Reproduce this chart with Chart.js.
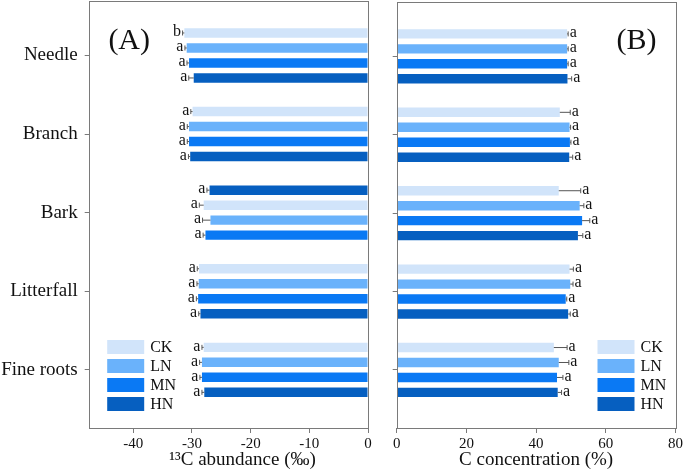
<!DOCTYPE html>
<html>
<head>
<meta charset="utf-8">
<script src="https://cdn.jsdelivr.net/npm/chart.js@4/dist/chart.umd.min.js"></script>
<style>
  body { margin: 0; background: #fff; }
  canvas { position: absolute; top: 0; }
</style>
</head>
<body>
<canvas id="chartA" width="380" height="476" style="left:0"></canvas>
<canvas id="chartB" width="305" height="476" style="left:380px"></canvas>
<script>
const categories = ["Needle", "Branch", "Bark", "Litterfall", "Fine roots"];
const treatments = ["CK", "LN", "MN", "HN"];
const treatColors = ["#d1e4fa", "#6ab2fb", "#0a79f4", "#065fc0"];

// (A) 13C abundance, per treatment, per tissue
const abundCK = [-31.3, -29.9, -28.0, -28.8, -28.0];
const abundLN = [-30.9, -30.5, -26.85, -28.85, -28.3];
const abundMN = [-30.5, -30.5, -27.7, -28.95, -28.3];
const abundHN = [-29.7, -30.3, -27.0, -28.55, -27.9];
const abundErrCK = [0.3, 0.3, 0.75, 0.3, 0.3];
const abundErrLN = [0.3, 0.3, 1.35, 0.3, 0.4];
const abundErrMN = [0.35, 0.3, 0.4, 0.3, 0.35];
const abundErrHN = [0.85, 0.3, 0.45, 0.3, 0.4];
const abundSigCK = ["b", "a", "a", "a", "a"];
const abundSigLN = ["a", "a", "a", "a", "a"];
const abundSigMN = ["a", "a", "a", "a", "a"];
const abundSigHN = ["a", "a", "a", "a", "a"];
// row order inside each group in panel A (bark group is drawn with HN on top)
const rowOrderA = [[0,1,2,3],[0,1,2,3],[3,0,1,2],[0,1,2,3],[0,1,2,3]];

// (B) C concentration
const concCK = [48.9, 46.8, 46.5, 49.6, 45.1];
const concLN = [48.9, 49.6, 52.5, 49.8, 46.5];
const concMN = [48.9, 49.7, 53.2, 48.5, 46.0];
const concHN = [49.0, 49.5, 52.0, 49.2, 46.2];
const concErrCK = [0.3, 3.0, 6.3, 1.1, 3.8];
const concErrLN = [0.3, 0.3, 1.2, 0.8, 2.9];
const concErrMN = [0.3, 0.3, 2.2, 0.3, 1.7];
const concErrHN = [1.2, 1.0, 1.4, 0.6, 1.1];
const concSig = ["a", "a", "a", "a", "a"];
const rowOrderB = [[0,1,2,3],[0,1,2,3],[0,1,2,3],[0,1,2,3],[0,1,2,3]];

const ticksA = [-40, -30, -20, -10, 0];
const ticksB = [0, 20, 40, 60, 80];

const SERIF = '"Liberation Serif", "Times New Roman", serif';
const FRAME = "#7a7a7a";

function buildDatasets(vals, errs, sigs, order){
  return treatments.map((t, r) => ({
    label: t,
    data: categories.map((c, i) => {
      const k = order[i][r];
      return { x: vals[k][i], y: i, err: errs[k][i], sig: sigs[k][i] };
    }),
    backgroundColor: categories.map((c, i) => treatColors[order[i][r]]),
    borderWidth: 0,
    categoryPercentage: 0.763,
    barPercentage: 0.63
  }));
}

const decoPlugin = {
  id: "deco",
  afterDatasetsDraw(chart, args, opts){
    const ctx = chart.ctx;
    const xs = chart.scales.x;
    ctx.save();
    chart.data.datasets.forEach((ds, di) => {
      const meta = chart.getDatasetMeta(di);
      meta.data.forEach((bar, j) => {
        const d = ds.data[j];
        const dir = d.x < 0 ? -1 : 1;
        const xe = xs.getPixelForValue(d.x + dir * d.err);
        ctx.strokeStyle = "#555";
        ctx.lineWidth = 1;
        ctx.beginPath();
        ctx.moveTo(bar.x, bar.y);
        ctx.lineTo(xe, bar.y);
        ctx.moveTo(xe, bar.y - 2.5);
        ctx.lineTo(xe, bar.y + 2.5);
        ctx.stroke();
        ctx.fillStyle = "#111";
        ctx.font = "16px " + SERIF;
        ctx.textBaseline = "middle";
        ctx.textAlign = dir < 0 ? "right" : "left";
        ctx.fillText(d.sig, xe + dir * 1.5, bar.y - 1);
      });
    });
    ctx.restore();
  },
  afterDraw(chart, args, opts){
    const ctx = chart.ctx;
    const a = chart.chartArea;
    ctx.save();
    ctx.strokeStyle = FRAME;
    ctx.lineWidth = 1;
    ctx.strokeRect(Math.round(a.left) + 0.5, Math.round(a.top) + 0.5,
      Math.round(a.right - a.left), Math.round(a.bottom - a.top));
    // panel label
    ctx.fillStyle = "#111";
    ctx.font = "30px " + SERIF;
    ctx.textAlign = "center";
    ctx.textBaseline = "middle";
    const lx = opts.side === "left" ? a.left + 40.5 : a.right - 39;
    ctx.fillText(opts.label, lx, 41);
    // legend
    const bx = opts.side === "left" ? a.left + 18.5 : a.right - 78;
    ctx.font = "16px " + SERIF;
    ctx.textAlign = "left";
    treatments.forEach((t, i) => {
      const by = a.bottom - 88 + 19 * i;
      ctx.fillStyle = treatColors[i];
      ctx.fillRect(bx, by, 37, 14);
      ctx.fillStyle = "#111";
      ctx.fillText(t, bx + 43, by + 8);
    });
    ctx.restore();
  }
};

function makeChart(id, datasets, xMin, xMax, xTicks, title, side, yWidth, padRight, padTop, showY){
  return new Chart(document.getElementById(id), {
    type: "bar",
    data: { datasets },
    plugins: [decoPlugin],
    options: {
      indexAxis: "y",
      responsive: false,
      animation: false,
      layout: { padding: { left: 0, right: padRight, top: padTop, bottom: 0 } },
      plugins: {
        legend: { display: false },
        tooltip: { enabled: false },
        deco: { label: side === "left" ? "(A)" : "(B)", side }
      },
      scales: {
        x: {
          type: "linear",
          min: xMin, max: xMax,
          afterBuildTicks: s => { s.ticks = xTicks.map(v => ({ value: v })); },
          afterFit: s => { s.height = 48; },
          grid: { drawOnChartArea: false, tickLength: 5, color: FRAME },
          border: { display: false },
          ticks: { color: "#111", padding: 2, font: { family: SERIF, size: 15 } },
          title: { display: true, text: title, color: "#111",
            font: { family: SERIF, size: 19 }, padding: { top: 0, bottom: 5 } }
        },
        y: {
          type: "linear",
          reverse: true,
          offset: false,
          min: -0.693, max: 4.74,
          afterBuildTicks: s => { s.ticks = categories.map((c, i) => ({ value: i })); },
          afterFit: s => { s.width = yWidth; s.paddingTop = 0; s.paddingBottom = 0; },
          grid: { drawOnChartArea: false, offset: false, tickLength: 4, color: FRAME },
          border: { display: false },
          ticks: {
            color: "#111", padding: 7,
            font: { family: SERIF, size: 19 },
            callback: v => showY ? categories[v] : ""
          }
        }
      }
    }
  });
}

makeChart("chartA",
  buildDatasets([abundCK, abundLN, abundMN, abundHN],
    [abundErrCK, abundErrLN, abundErrMN, abundErrHN],
    [abundSigCK, abundSigLN, abundSigMN, abundSigHN], rowOrderA),
  -47.6, 0, ticksA, "\u2003\u2002\u00b9\u00b3C abundance (\u2030)", "left", 88.7, 12, 1, true);

makeChart("chartB",
  buildDatasets([concCK, concLN, concMN, concHN],
    [concErrCK, concErrLN, concErrMN, concErrHN],
    [concSig, concSig, concSig, concSig], rowOrderB),
  0, 80, ticksB, "C concentration (%)", "right", 16.7, 9, 2, false);
</script>
</body>
</html>
